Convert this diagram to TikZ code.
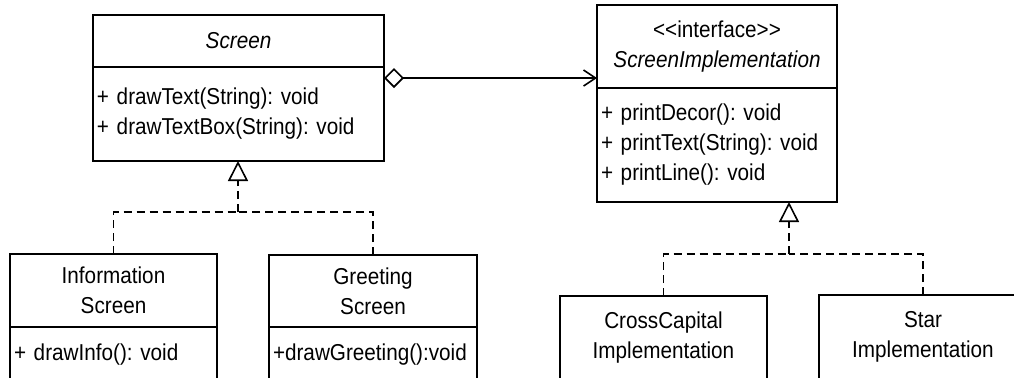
\documentclass[tikz,border=0pt]{standalone}
\usepackage{fontspec}
\setmainfont{Liberation Sans}[FakeStretch=0.9]
\usetikzlibrary{positioning,arrows.meta}
\frenchspacing

\tikzset{
  clshead/.style={draw, line width=0.8pt, fill=white, outer sep=0pt, inner sep=2pt, align=center},
  clsbody/.style={draw, line width=0.8pt, fill=white, outer sep=0pt, inner sep=2pt, align=left},
  realize/.style={line width=0.8pt, dash pattern=on 4pt off 2.5pt},
  realtip/.style={-{Triangle[open,length=10pt,width=10pt]}},
  aggr/.style={line width=0.8pt, {Diamond[open,length=10pt,width=10pt]}-{Straight Barb[length=6pt,width=8pt]}},
}

\begin{document}
\begin{tikzpicture}[x=0.5pt,y=-0.5pt]
\fontsize{11.5}{15}\selectfont
\clip (0,0) rectangle (1014,377);
\fill[white] (0,0) rectangle (1014,377);

% Abstraction side
\node[clshead, anchor=north west, text width=141.5pt, minimum height=26pt] (scrhead) at (93,15) {\textit{Screen}};
\node[clsbody, below=0pt of scrhead, text width=141.5pt, minimum height=47pt] (scrbody) {+ drawText(String): void\\+ drawTextBox(String): void};

\node[clshead, anchor=north west, text width=99.5pt, minimum height=36.5pt] (infohead) at (10,254) {Information\\Screen};
\node[clsbody, below=0pt of infohead, text width=99.5pt, minimum height=28pt] (infobody) {+ drawInfo(): void};

\node[clshead, anchor=north west, text width=100pt, minimum height=36pt] (greethead) at (269,255) {Greeting\\Screen};
\node[clsbody, below=0pt of greethead, text width=100pt, minimum height=28pt] (greetbody) {+drawGreeting():void};

% Implementor side
\node[clshead, anchor=north west, text width=116pt, minimum height=41.5pt] (implhead) at (597,5) {<\kern0pt<interface>\kern0pt>\\\textit{ScreenImplementation}};
\node[clsbody, below=0pt of implhead, text width=116pt, minimum height=57pt] (implbody) {+ printDecor(): void\\+ printText(String): void\\+ printLine(): void};

\node[clshead, anchor=north west, text width=99.5pt, minimum height=42pt] (cross) at (560,296) {CrossCapital\\Implementation};
\node[clshead, anchor=north west, text width=100pt, minimum height=42pt] (star) at (819,295) {Star\\Implementation};

% Bridge
\coordinate (agg) at ([yshift=-5.5pt]scrbody.north east);
\draw[aggr] (agg) -- (agg -| implhead.west);

% Realizations
\coordinate (scrjoin) at (238,212);
\draw[realize] (infohead.north) |- (scrjoin);
\draw[realize] (greethead.north) |- (scrjoin);
\draw[realize, realtip] (scrjoin) -- (scrjoin |- scrbody.south);

\coordinate (impljoin) at (789,254);
\draw[realize] (cross.north) |- (impljoin);
\draw[realize] (star.north) |- (impljoin);
\draw[realize, realtip] (impljoin) -- (impljoin |- implbody.south);
\end{tikzpicture}
\end{document}
